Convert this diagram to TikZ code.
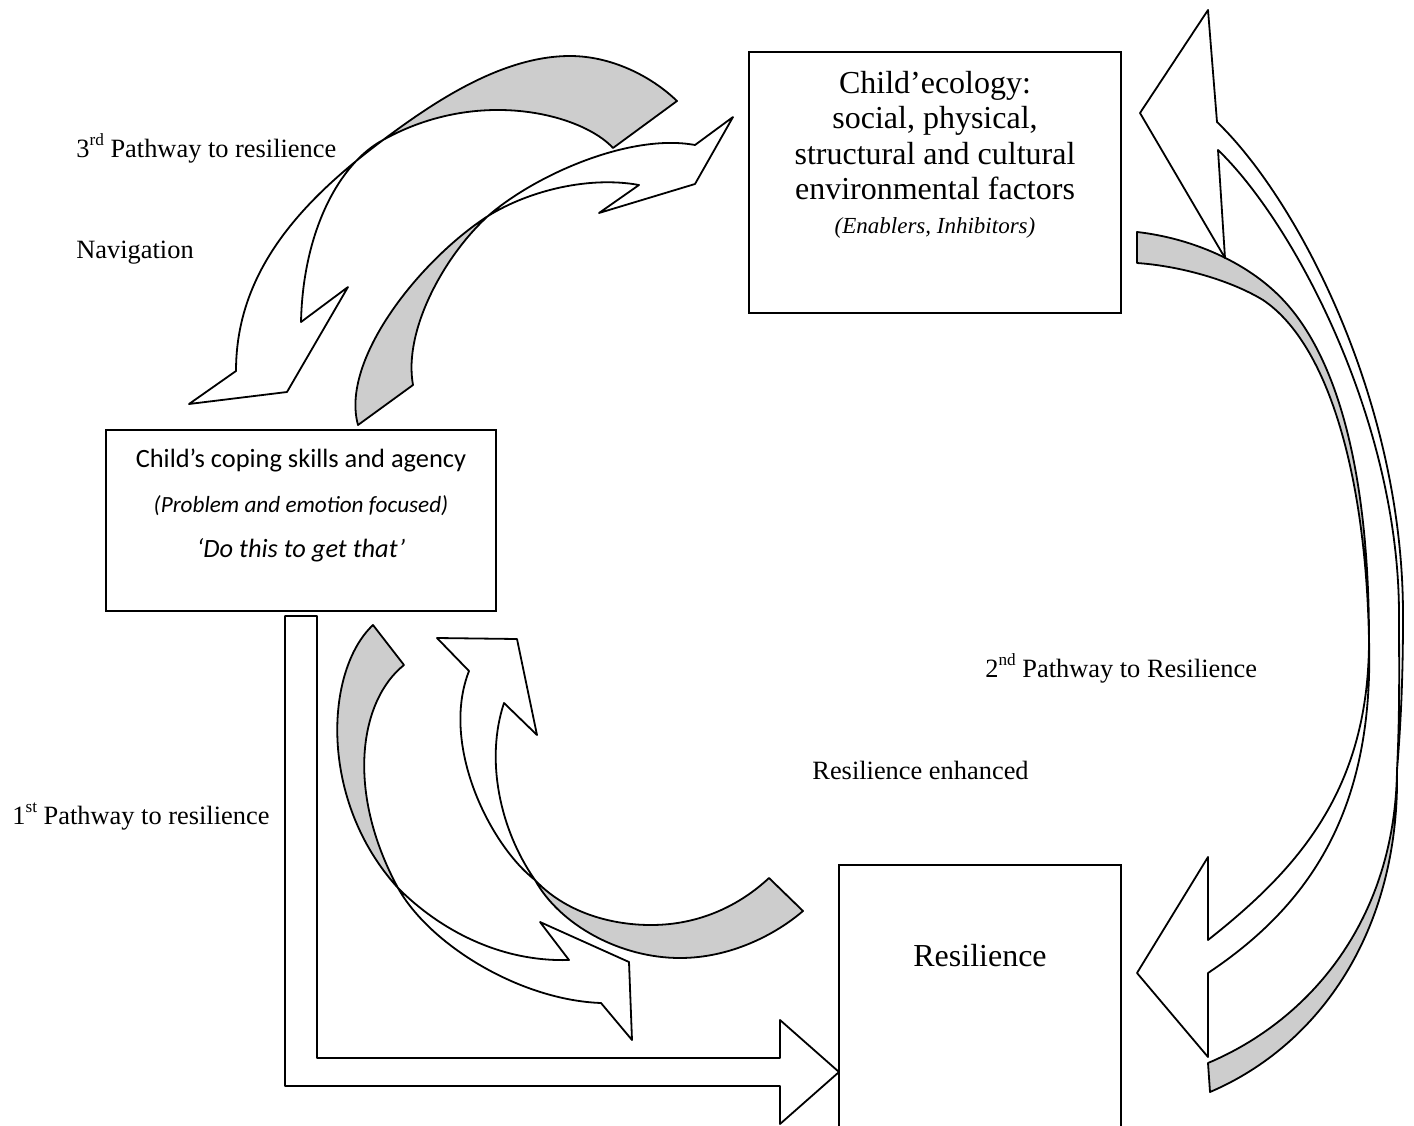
\documentclass[tikz,border=0pt]{standalone}
\usepackage{fontspec}
\setmainfont{Liberation Serif}
\newfontfamily\calibri{Carlito}
\definecolor{backface}{RGB}{205,205,205}
\newcommand\ordsup[1]{\raisebox{0.42em}{\fontsize{8.6}{9}\selectfont #1}}
\begin{document}
\begin{tikzpicture}[x=0.5pt,y=-0.5pt,
  outline/.style={draw=black, line width=0.9pt, line join=round},
  front/.style={outline, fill=white},
  back/.style={outline, fill=backface},
  box/.style={draw=black, line width=0.9pt, fill=white, inner sep=0pt},
  lbl/.style={inner sep=0pt, anchor=base west, font=\fontsize{13.2}{15}\selectfont},
  ctr/.style={inner sep=0pt, anchor=base}]
\useasboundingbox (0,0) rectangle (1414,1125);
\clip (0,0) rectangle (1414,1125);

% ---- boxes ----
\node[box, minimum width=186pt, minimum height=130.5pt] (ecology) at (935,182.5) {};
\node[box, minimum width=195pt, minimum height=90.5pt] (coping) at (301,520.5) {};
\node[box, minimum width=141pt, minimum height=135pt] (resil) at (980,1000) {};

% ---- navigation arrow: ecology -> coping (grey back, white head) ----
\path[back] (383,140) .. controls (430,105) and (500,56) .. (570,56)
  .. controls (610,56) and (650,75) .. (677,101) -- (613,148)
  .. controls (583,115) and (480,86) .. (383,140) -- cycle;
\path[front] (383,140) .. controls (303,200) and (236,270) .. (236,371)
  -- (189,404) -- (287,392) -- (348,287) -- (301,322)
  .. controls (303,230) and (340,163) .. (383,140) -- cycle;

% ---- coping -> ecology ----
\path[back] (488,216) .. controls (445,255) and (403,330) .. (413,385)
  -- (358,425) .. controls (340,360) and (420,260) .. (488,216) -- cycle;
\path[front] (488,216) .. controls (535,175) and (630,133) .. (695,145)
  -- (733,117) -- (695,184) -- (599,213) -- (639,185)
  .. controls (590,176) and (530,190) .. (488,216) -- cycle;

% ---- coping -> resilience (curved) ----
\path[back] (398,888) .. controls (318,800) and (325,670) .. (373,625)
  -- (404,665) .. controls (360,700) and (345,790) .. (398,888) -- cycle;
\path[front] (398,888) .. controls (440,930) and (500,962) .. (569,960)
  -- (540,922) -- (629,962) -- (632,1040) -- (601,1003)
  .. controls (520,1000) and (430,945) .. (398,888) -- cycle;

% ---- resilience -> coping (curved) ----
\path[back] (535,880) .. controls (565,912) and (610,925) .. (651,925)
  .. controls (700,925) and (740,905) .. (769,878) -- (803,911)
  .. controls (775,935) and (730,958) .. (680,958)
  .. controls (620,958) and (560,925) .. (535,880) -- cycle;
\path[front] (535,880) .. controls (490,845) and (440,745) .. (469,671)
  -- (437,638) -- (517,639) -- (537,735) -- (504,703)
  .. controls (485,760) and (500,830) .. (535,880) -- cycle;

% ---- L-shaped first pathway ----
\path[front] (285,616) -- (317,616) -- (317,1058) -- (780,1058) -- (780,1020)
  -- (839,1072) -- (780,1124) -- (780,1086) -- (285,1086) -- cycle;

% ---- second pathway: ecology -> resilience ----
\path[back] (1137,232) .. controls (1190,238) and (1240,260) .. (1273,290)
  .. controls (1340,350) and (1369,480) .. (1369,640)
  .. controls (1366,480) and (1330,345) .. (1263,300)
  .. controls (1230,280) and (1180,266) .. (1137,263) -- cycle;
\path[front] (1369,640) .. controls (1369,790) and (1298,869) .. (1208,940)
  -- (1208,857) -- (1137,973) -- (1208,1057) -- (1208,973)
  .. controls (1310,905) and (1374,810) .. (1369,640) -- cycle;

% ---- resilience -> ecology ----
\path[back] (1210,1092) .. controls (1320,1045) and (1400,930) .. (1397,770)
  .. controls (1395,920) and (1310,1020) .. (1208,1063) -- cycle;
\path[front] (1397,770) .. controls (1402,710) and (1403,660) .. (1403,615)
  .. controls (1403,400) and (1297,199) .. (1217,122)
  -- (1208,10) -- (1140,113) -- (1225,258) -- (1218,150)
  .. controls (1293,222) and (1399,420) .. (1399,615)
  .. controls (1399,660) and (1400,710) .. (1397,770) -- cycle;

% ---- box texts ----
\begin{scope}[every node/.append style={ctr, font=\fontsize{16}{17}\selectfont}]
  \node (eco1) at (935,93) {Child’ecology:};
  \node (eco2) at (935,128.5) {social, physical,};
  \node (eco3) at (935,164) {structural and cultural};
  \node (eco4) at (935,199.5) {environmental factors};
\end{scope}
\node[ctr, font=\fontsize{11.5}{13}\selectfont\itshape] (eco5) at (935,233) {(Enablers, Inhibitors)};

\node[ctr, font=\calibri\fontsize{13.2}{15}\selectfont] (cope1) at (301,467) {Child’s coping skills and agency};
\node[ctr, font=\calibri\fontsize{11.6}{13}\selectfont\itshape] (cope2) at (301,512) {(Problem and emotion focused)};
\node[ctr, font=\calibri\fontsize{13.2}{15}\selectfont\itshape] (cope3) at (301,557) {‘Do this to get that’};

\node[ctr, font=\fontsize{16}{18}\selectfont] (rest) at (980,966) {Resilience};

% ---- free labels ----
\node[lbl] (path3) at (76,157) {3\ordsup{rd} Pathway to resilience};
\node[lbl] (nav) at (76,258) {Navigation};
\node[lbl] (path2) at (985,677) {2\ordsup{nd} Pathway to Resilience};
\node[lbl] (enh) at (812,779) {Resilience enhanced};
\node[lbl] (path1) at (12,824) {1\ordsup{st} Pathway to resilience};
\end{tikzpicture}
\end{document}
